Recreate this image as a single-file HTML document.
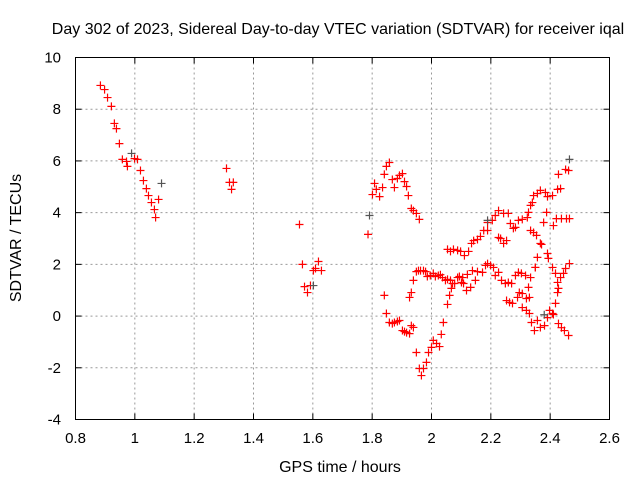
<!DOCTYPE html>
<html><head><meta charset="utf-8"><style>
body{margin:0;background:#fff;}
svg{display:block;font-family:"Liberation Sans",sans-serif;}
</style></head><body>
<svg id="chart" width="640" height="480" viewBox="0 0 640 480">
<text x="338" y="34" text-anchor="middle" font-size="16">Day 302 of 2023, Sidereal Day-to-day VTEC variation (SDTVAR) for receiver iqal</text>
<text x="340" y="472" text-anchor="middle" font-size="16">GPS time / hours</text>
<text transform="translate(21,238) rotate(-90)" text-anchor="middle" font-size="16">SDTVAR / TECUs</text>
<g id="grid"></g><g id="ticks"></g><g id="marks"></g>
<rect x="75.5" y="57.5" width="534" height="362" fill="none" stroke="#000"/>
</svg>
<script>
const xTicks=[0.8,1,1.2,1.4,1.6,1.8,2,2.2,2.4,2.6];
const yTicks=[-4,-2,0,2,4,6,8,10];
const xs=[0.884,0.898,0.908,0.921,0.931,0.938,0.948,0.958,0.972,0.975,0.999,1.009,1.019,1.029,1.039,1.046,1.056,1.066,1.070,1.080,
1.309,1.319,1.326,1.332,
1.555,1.565,1.572,1.582,1.592,1.602,1.609,1.619,1.629,
1.786,1.801,1.808,1.814,1.825,1.835,1.841,1.848,1.858,1.868,1.875,1.885,1.892,1.902,1.909,1.916,1.922,1.932,1.939,1.949,1.959,
1.841,1.848,1.858,1.868,1.875,1.885,1.892,1.902,1.909,1.916,1.926,1.932,1.939,1.926,1.932,1.939,1.949,1.956,1.963,1.973,1.980,1.986,1.996,2.006,2.013,2.023,2.030,2.037,2.047,2.054,2.064,2.071,2.078,2.088,2.094,2.101,
1.949,1.959,1.966,1.973,1.983,1.990,2.000,2.006,2.017,2.027,2.033,2.040,2.054,2.061,2.067,
2.054,2.064,2.074,2.088,2.098,2.111,2.125,2.135,2.142,2.155,2.165,2.176,2.189,2.189,2.205,2.215,2.226,2.243,2.259,2.266,2.276,2.283,2.293,2.306,2.323,2.327,2.334,2.340,2.344,2.357,2.367,2.384,2.391,2.408,2.425,2.435,2.452,2.462,
2.226,2.233,2.243,2.253,2.334,2.344,2.354,2.367,2.371,2.378,2.388,2.411,2.421,2.438,2.455,2.465,2.428,
2.357,2.350,2.391,2.394,2.408,2.418,2.425,2.428,2.425,2.418,2.435,2.445,2.452,2.465,
2.105,2.121,2.138,2.155,2.172,2.182,2.189,2.199,2.209,2.215,2.226,2.236,2.249,2.259,2.270,2.283,2.293,2.303,2.317,2.334,2.327,2.350,
2.108,2.118,2.132,2.148,2.253,2.263,2.273,2.290,2.296,2.306,2.320,2.330,2.306,2.320,2.330,2.337,2.347,2.357,2.367,2.381,2.391,2.398,2.408,2.411,2.428,2.438,2.448,2.462];
const ys=[8.92,8.76,8.45,8.11,7.45,7.25,6.67,6.06,5.98,5.79,6.09,6.06,5.63,5.24,4.93,4.66,4.39,4.12,3.81,4.51,
5.71,5.17,4.90,5.17,
3.54,2.00,1.14,0.91,1.18,1.76,1.84,2.11,1.76,
3.16,4.70,5.13,4.90,4.62,4.97,5.48,5.79,5.94,5.28,4.97,5.32,5.44,5.51,5.20,5.01,4.66,4.16,4.08,3.97,3.74,
0.80,0.10,-0.25,-0.29,-0.25,-0.21,-0.17,-0.56,-0.60,-0.64,-0.68,-0.37,-0.44,0.72,0.91,1.38,1.72,1.76,1.76,1.76,1.72,1.53,1.57,1.65,1.53,1.57,1.60,1.49,1.38,1.42,1.38,1.26,1.26,1.49,1.53,1.30,
-1.41,-2.03,-2.30,-2.03,-1.79,-1.41,-1.21,-0.94,-1.06,-1.18,-0.71,-0.25,0.45,0.80,1.07,
2.58,2.50,2.58,2.54,2.50,2.34,2.50,2.81,2.92,2.96,3.08,3.31,3.62,3.31,3.70,3.89,4.08,3.97,3.97,3.58,3.39,3.43,3.70,3.74,3.81,4.01,4.28,4.39,4.66,4.74,4.86,4.78,4.62,4.66,4.90,4.93,5.67,5.63,
3.04,3.00,2.81,2.92,3.31,3.23,3.12,2.81,2.77,3.62,4.01,3.50,3.77,3.77,3.77,3.77,5.48,
2.27,1.88,2.42,2.23,1.88,1.65,1.30,1.07,0.91,0.49,1.49,1.65,1.84,2.03,
1.49,1.61,1.76,1.72,1.69,1.96,2.03,1.96,1.88,1.57,1.69,1.38,1.26,1.30,1.26,1.57,1.69,1.65,1.57,1.49,1.11,1.88,
1.26,0.99,1.11,1.38,0.60,0.53,0.49,0.72,0.91,0.87,0.68,0.72,0.33,0.22,0.10,-0.25,-0.56,-0.17,-0.44,-0.37,-0.06,0.22,0.10,0.06,-0.29,-0.45,-0.56,-0.75];
const grayX=[0.989,1.090,1.791,2.465,1.602,2.189,2.380];
const grayY=[6.29,5.13,3.89,6.06,1.18,3.70,0.05];
const X0=0.8,X1=2.6,Y0=-4,Y1=10,L=75.5,R=609.5,T=57.5,B=419.5;
function sx(v){return L+(v-X0)/(X1-X0)*(R-L);}
function sy(v){return B-(v-Y0)/(Y1-Y0)*(B-T);}
const NS="http://www.w3.org/2000/svg";
const grid=document.getElementById('grid'),ticks=document.getElementById('ticks'),marks=document.getElementById('marks');
function mk(tag,attrs,parent){const e=document.createElementNS(NS,tag);for(const k in attrs)e.setAttribute(k,attrs[k]);parent.appendChild(e);return e;}
xTicks.forEach(t=>{const x=sx(t);
 if(t>X0&&t<X1){const g=mk('line',{x1:x,x2:x,y1:T,y2:B,stroke:'#999','stroke-dasharray':'2,3'},grid);
 
 }
 mk('line',{x1:x,x2:x,y1:B,y2:B-6,stroke:'#000'},ticks);
 mk('line',{x1:x,x2:x,y1:T,y2:T+6,stroke:'#000'},ticks);
 const lb=mk('text',{x:x,y:443,'text-anchor':'middle','font-size':'15'},ticks);lb.textContent=String(t);
 
 
});
yTicks.forEach(t=>{const y=sy(t);
 if(t>Y0&&t<Y1){const g=mk('line',{x1:L,x2:R,y1:y,y2:y,stroke:'#999','stroke-dasharray':'2,3'},grid);
 
 }
 mk('line',{x1:L,x2:L+6,y1:y,y2:y,stroke:'#000'},ticks);
 mk('line',{x1:R,x2:R-6,y1:y,y2:y,stroke:'#000'},ticks);
 const lb=mk('text',{x:61,y:y+5,'text-anchor':'end','font-size':'15'},ticks);lb.textContent=String(t);
 
 
});
function plus(x,y,c){const p=mk('path',{d:`M${sx(x)-4},${sy(y)}h8M${sx(x)},${sy(y)-4}v8`,stroke:c,'stroke-width':'1.2',fill:'none'},marks);return p;}
for(let i=0;i<xs.length;i++){const p=plus(xs[i],ys[i],'#f00');
 
 }
for(let i=0;i<grayX.length;i++){const p=plus(grayX[i],grayY[i],'#555');
 
 }
</script>
</body></html>
